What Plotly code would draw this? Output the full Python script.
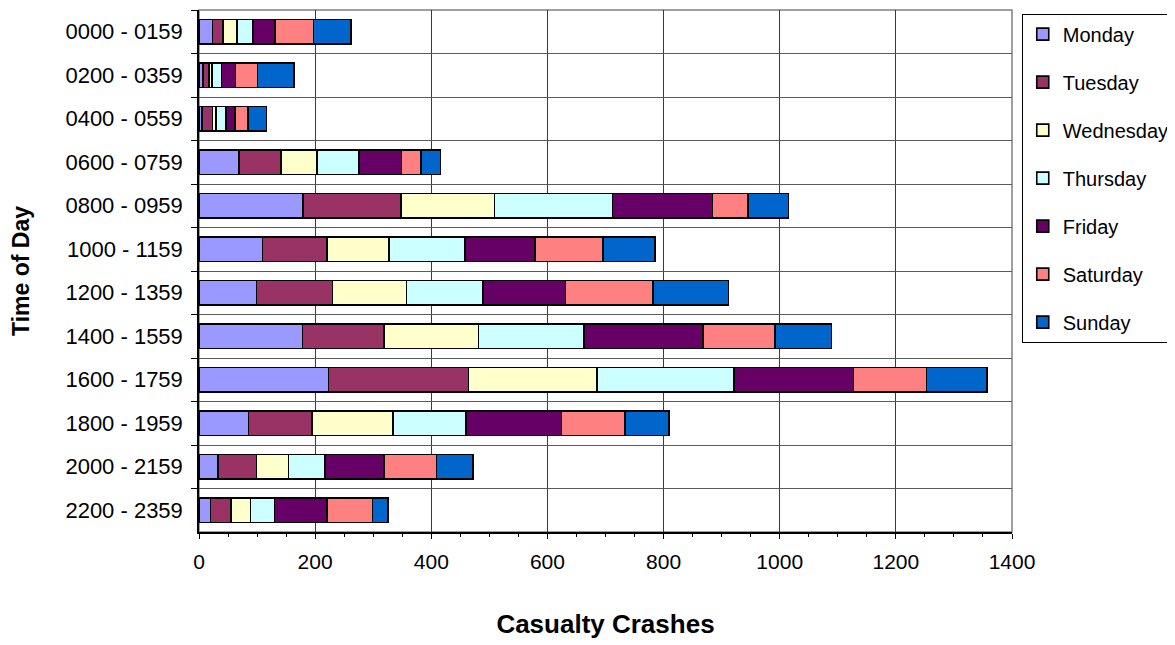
import plotly.graph_objects as go

categories = ["0000 - 0159", "0200 - 0359", "0400 - 0559", "0600 - 0759",
              "0800 - 0959", "1000 - 1159", "1200 - 1359", "1400 - 1559",
              "1600 - 1759", "1800 - 1959", "2000 - 2159", "2200 - 2359"]

monday    = [23, 7, 5, 69, 179, 109, 99, 178, 223, 85, 33, 20]
tuesday   = [18, 10, 18, 72, 169, 111, 131, 141, 241, 110, 66, 35]
wednesday = [24, 5, 6, 62, 161, 107, 127, 162, 221, 139, 55, 34]
thursday  = [28, 17, 18, 72, 203, 131, 132, 182, 236, 126, 63, 41]
friday    = [38, 24, 15, 74, 172, 121, 142, 205, 206, 164, 102, 90]
saturday  = [66, 38, 22, 33, 61, 117, 151, 124, 126, 110, 90, 79]
sunday    = [65, 63, 32, 34, 70, 89, 130, 97, 104, 75, 63, 26]

day_names = ["Monday", "Tuesday", "Wednesday", "Thursday", "Friday", "Saturday", "Sunday"]
day_values = [monday, tuesday, wednesday, thursday, friday, saturday, sunday]
day_colors = ["#9999FF", "#993366", "#FFFFCC", "#CCFFFF", "#660066", "#FF8080", "#0066CC"]

x_ticks = [0, 200, 400, 600, 800, 1000, 1200, 1400]

FONT = "Liberation Sans, Arial, sans-serif"

fig = go.Figure()
for name, vals, col in zip(day_names, day_values, day_colors):
    fig.add_trace(go.Bar(
        y=categories, x=vals, name=name, orientation="h",
        marker=dict(color=col, line=dict(color="black", width=1.6)),
        legendgroup=name,
    ))

# plot-area border (grey, visible on top and right)
fig.add_shape(type="rect", xref="paper", yref="paper", x0=0, y0=0, x1=1, y1=1,
              line=dict(color="#808080", width=1.5), layer="below")

fig.update_layout(
    barmode="stack",
    bargap=0.43,
    width=1167, height=637,
    margin=dict(l=191, r=163, t=2, b=113, autoexpand=False),
    paper_bgcolor="white", plot_bgcolor="white",
    font=dict(family=FONT, size=21, color="black"),
    showlegend=True,
    legend=dict(
        x=1.012, y=0.993, xanchor="left", yanchor="top",
        bgcolor="white", bordercolor="black", borderwidth=1,
        font=dict(size=20), tracegroupgap=19, traceorder="grouped",
    ),
    xaxis=dict(
        range=[0, 1400], tickvals=x_ticks, ticktext=[str(v) for v in x_ticks],
        showgrid=True, gridcolor="#3a3a3a", gridwidth=1,
        showline=True, linecolor="black", linewidth=1.5,
        ticks="outside", ticklen=5, tickcolor="black",
        minor=dict(dtick=50, ticks="outside", ticklen=3, tickcolor="black", showgrid=False),
        zeroline=False, automargin=False, ticklabelstandoff=5,
        title=dict(text="<b>Casualty Crashes</b>", font=dict(size=26), standoff=43),
        tickfont=dict(size=21),
    ),
    yaxis=dict(
        categoryorder="array", categoryarray=categories, autorange="reversed",
        tickson="boundaries",
        showgrid=True, gridcolor="#5a5a5a", gridwidth=1,
        showline=True, linecolor="black", linewidth=1.5,
        ticks="outside", ticklen=6, tickcolor="black",
        ticklabelstandoff=10, automargin=False,
        title=dict(text="<b>Time of Day</b>", font=dict(size=23), standoff=33),
        tickfont=dict(size=22),
    ),
)

fig.write_html("out.html")
